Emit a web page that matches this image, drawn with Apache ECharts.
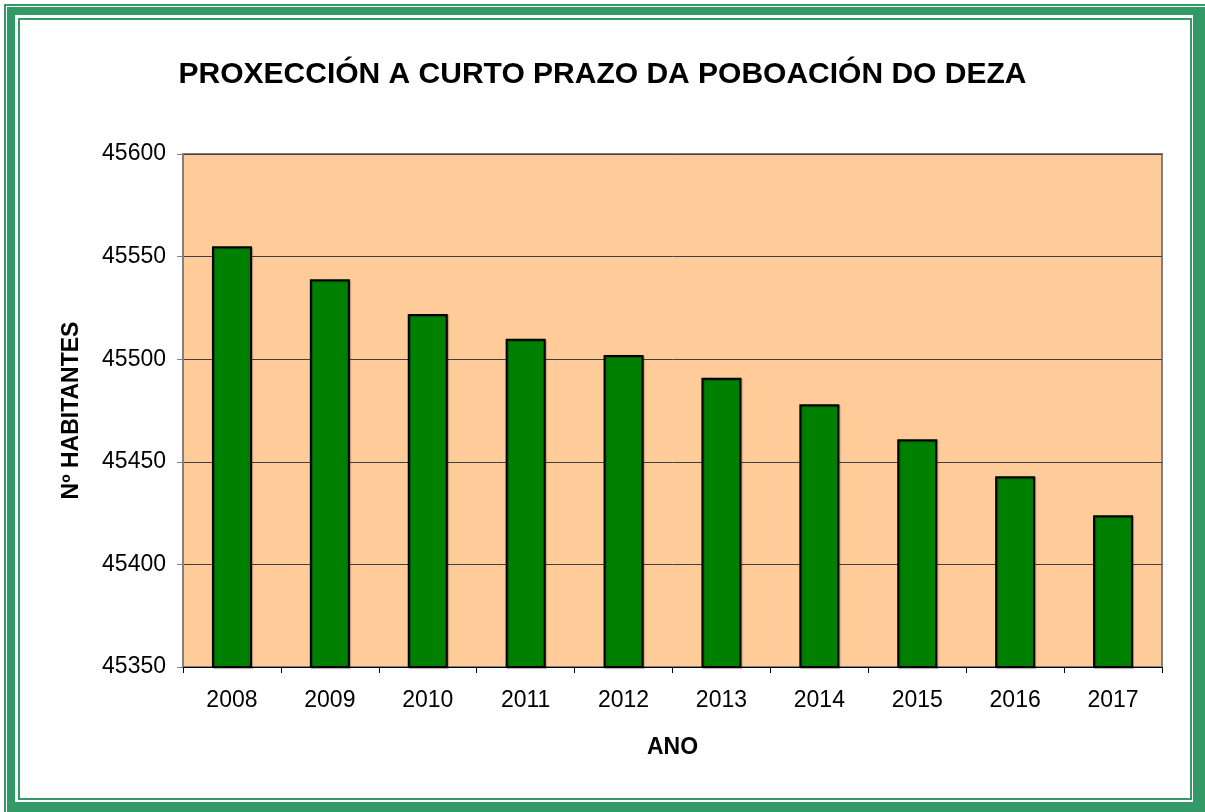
<!DOCTYPE html>
<html>
<head>
<meta charset="utf-8">
<script src="https://cdn.jsdelivr.net/npm/echarts@6/dist/echarts.min.js"></script>
<style>
html, body { margin: 0; padding: 0; width: 1205px; height: 812px; background: #fff; overflow: hidden; }
.frame { position: absolute; left: 4px; top: 4px; width: 1201px; height: 808px; background: #339966; }
.frameLine { position: absolute; left: 6px; top: 6px; width: 1199px; height: 806px; border-top: 1px solid #fff; border-left: 1px solid #fff; box-sizing: border-box; }
.inner { position: absolute; left: 15px; top: 15px; width: 1178px; height: 787px; background: #fff; }
.innerLine { position: absolute; left: 18px; top: 18px; width: 1174px; height: 782px; border: 2px solid #339966; box-sizing: border-box; }
#chart { position: absolute; left: 0; top: 0; width: 1205px; height: 812px; }
</style>
</head>
<body>
<div class="frame"></div>
<div class="frameLine"></div>
<div class="inner"></div>
<div class="innerLine"></div>
<div id="chart"></div>
<script>
// anos e poboacion estimada
var years = ['2008', '2009', '2010', '2011', '2012', '2013', '2014', '2015', '2016', '2017']
var population = [45555, 45539, 45522, 45510, 45502, 45491, 45478, 45461, 45443, 45424]
var yMin = 45350
var yMax = 45600
var yStep = 50

var font = '"Liberation Sans", Arial, sans-serif'
var chart = echarts.init(document.getElementById('chart'))
var option = {
  backgroundColor: 'transparent',
  animation: false,
  title: {
    text: 'PROXECCIÓN A CURTO PRAZO DA POBOACIÓN DO DEZA',
    left: 'center',
    top: 55,
    textStyle: { fontFamily: font, fontSize: 30, fontWeight: 'bold', color: '#000' }
  },
  grid: {
    left: 183,
    right: 43,
    top: 154,
    bottom: 145,
    show: true,
    backgroundColor: '#FFCC99',
    borderColor: '#808080',
    borderWidth: 2
  },
  xAxis: {
    type: 'category',
    data: years,
    name: 'ANO',
    nameLocation: 'middle',
    nameGap: 69,
    nameTextStyle: { fontFamily: font, fontSize: 23, fontWeight: 'bold', color: '#000' },
    axisLine: { lineStyle: { color: '#000', width: 1 } },
    axisTick: { show: true, alignWithLabel: false, length: 6, lineStyle: { color: '#000' } },
    axisLabel: { fontFamily: font, fontSize: 23, color: '#000', margin: 22 }
  },
  yAxis: {
    type: 'value',
    min: yMin,
    max: yMax,
    interval: yStep,
    name: 'Nº HABITANTES',
    nameLocation: 'middle',
    nameRotate: 90,
    nameGap: 100,
    nameTextStyle: { fontFamily: font, fontSize: 23, fontWeight: 'bold', color: '#000' },
    axisLine: { show: true, lineStyle: { color: '#808080', width: 2 } },
    axisTick: { show: true, length: 6, lineStyle: { color: '#808080' } },
    axisLabel: {
      fontFamily: font, fontSize: 23, color: '#000', margin: 17,
      formatter: function (v) { return String(v) }
    },
    splitLine: { show: true, lineStyle: { color: '#404040', width: 1 } }
  },
  series: [{
    type: 'bar',
    data: population,
    barWidth: 40,
    itemStyle: {
      color: '#008000',
      borderColor: '#000',
      borderWidth: 2,
      shadowColor: 'rgba(0,0,0,0.3)',
      shadowBlur: 1,
      shadowOffsetX: 1,
      shadowOffsetY: 1
    }
  }]
}
chart.setOption(option)
</script>
</body>
</html>
